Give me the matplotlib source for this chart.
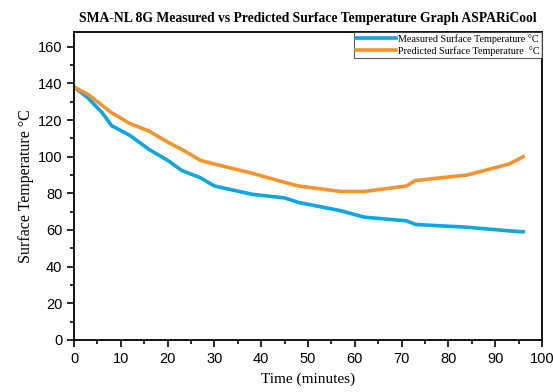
import matplotlib
matplotlib.use("Agg")
import matplotlib.pyplot as plt
from matplotlib.ticker import MultipleLocator

time_min = [0, 3, 6, 8, 12, 16, 20, 23, 27, 30, 38, 45, 48, 57, 62, 71, 73, 84, 93, 96]
measured = [138, 132, 124, 117, 111.5, 104, 98, 92.5, 88.5, 84, 79.5, 77.5, 75, 70.5, 67, 65, 63, 61.5, 59.5, 59]
predicted = [138, 134, 128, 124, 118, 114, 108, 104, 98, 96, 91, 86, 84, 81, 81, 84, 87, 90, 96, 100]

title = "SMA-NL 8G Measured vs Predicted Surface Temperature Graph ASPARiCool"
labels = ["Measured Surface Temperature °C", "Predicted Surface Temperature  °C"]
colors = ["#0aa6e6", "#f7922d"]

serif = ["Liberation Serif", "DejaVu Serif"]
sans = ["Liberation Sans", "DejaVu Sans"]

fig = plt.figure(figsize=(5.53, 3.92), dpi=100)
ax = fig.add_axes([0.134, 0.133, 0.846, 0.785])

ax.plot(time_min, measured, color=colors[0], lw=2.6, label=labels[0])
ax.plot(time_min, predicted, color=colors[1], lw=2.6, label=labels[1])

ax.set_xlim(0, 100)
ax.set_ylim(0, 168)
ax.xaxis.set_major_locator(MultipleLocator(10))
ax.xaxis.set_minor_locator(MultipleLocator(5))
ax.yaxis.set_major_locator(MultipleLocator(20))
ax.yaxis.set_minor_locator(MultipleLocator(10))
ax.tick_params(which="both", direction="out", top=False, right=False, width=1.2)
ax.tick_params(which="major", length=5, labelsize=10.5)
ax.tick_params(which="minor", length=3)
for lab in ax.get_xticklabels() + ax.get_yticklabels():
    lab.set_family(sans)
for s in ax.spines.values():
    s.set_linewidth(1.3)

ax.set_xlabel("Time (minutes)", family=serif, fontsize=11, labelpad=5)
ax.set_ylabel("Surface Temperature °C", family=serif, fontsize=11.5, labelpad=3)
ax.set_title(title, family=serif, fontsize=9.8, fontweight="bold", pad=7)

leg = ax.legend(loc="upper right", prop={"family": serif, "size": 7.3},
                frameon=True, fancybox=False, edgecolor="#333333",
                borderpad=0.2, handlelength=4.0, handletextpad=0.2,
                labelspacing=0.2, borderaxespad=0.0)
leg.get_frame().set_linewidth(0.8)

fig.savefig("out.png", dpi=100)
